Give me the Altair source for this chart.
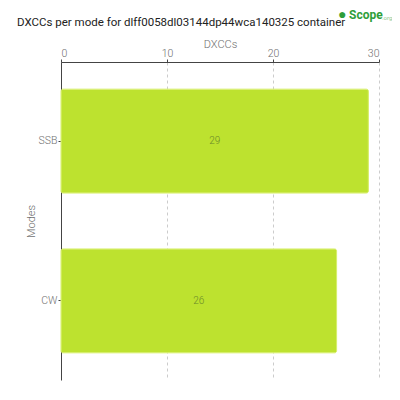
import altair as alt
import pandas as pd

modes = ["SSB", "CW"]
dxccs = [29, 26]
title_text = "DXCCs per mode for dlff0058dl03144dp44wca140325 container"

df = pd.DataFrame({"mode": modes, "dxcc": dxccs})
df["half"] = df["dxcc"] / 2

FONT = "Roboto"

base = alt.Chart(df)

axis_common = dict(
    gridDash=[3, 3], gridColor="#cccccc", domainColor="#444444", tickColor="#444444",
    labelColor="#6f6f6f", titleColor="#6f6f6f", labelFontSize=10.5, titleFontSize=11,
    titleFontWeight=300, labelFontWeight=300, labelFont=FONT, titleFont=FONT,
    tickSize=3, labelPadding=1,
)

bars = base.mark_bar(color="#bde22f", stroke="#d6ee6a", strokeWidth=1, cornerRadius=2).encode(
    x=alt.X("dxcc:Q", title="DXCCs", scale=alt.Scale(domain=[0, 30], nice=False),
            axis=alt.Axis(orient="top", values=[0, 10, 20, 30], titlePadding=-1, **axis_common)),
    y=alt.Y("mode:N", title="Modes", sort=modes,
            scale=alt.Scale(paddingInner=0.35, paddingOuter=0.17),
            axis=alt.Axis(titlePadding=2, **axis_common)),
)

labels = base.mark_text(color="#6b8a2a", fontSize=10, font=FONT, fontWeight=300).encode(
    x=alt.X("half:Q"),
    y=alt.Y("mode:N", sort=modes),
    text=alt.Text("dxcc:Q"),
)

title = alt.Chart(pd.DataFrame({"t": [title_text]})).mark_text(
    color="#222222", fontSize=11.5, font=FONT, align="left", baseline="middle"
).encode(x=alt.value(-44), y=alt.value(-39), text="t:N")

logo = alt.Chart(pd.DataFrame({"t": ["Scope"]})).mark_text(
    color="#2e9e3a", fontSize=12, fontWeight="bold", font=FONT, align="left", baseline="middle"
).encode(x=alt.value(288), y=alt.value(-47), text="t:N")
logo2 = alt.Chart(pd.DataFrame({"t": [".org"]})).mark_text(
    color="#8fc98f", fontSize=6, font=FONT, align="left", baseline="middle"
).encode(x=alt.value(321), y=alt.value(-44), text="t:N")
logo3 = alt.Chart(pd.DataFrame({"t": ["●"]})).mark_text(
    color="#2e9e3a", fontSize=14, font=FONT, align="left", baseline="middle"
).encode(x=alt.value(277), y=alt.value(-47), text="t:N")

chart = alt.layer(bars, labels, title, logo3, logo, logo2).properties(
    width=318, height=318,
    autosize=alt.AutoSizeParams(type="none"),
    padding={"left": 53, "top": 54, "right": 13, "bottom": 4},
).configure_view(stroke=None)

chart.save("out.html", embed_options={"renderer": "svg", "actions": False})
